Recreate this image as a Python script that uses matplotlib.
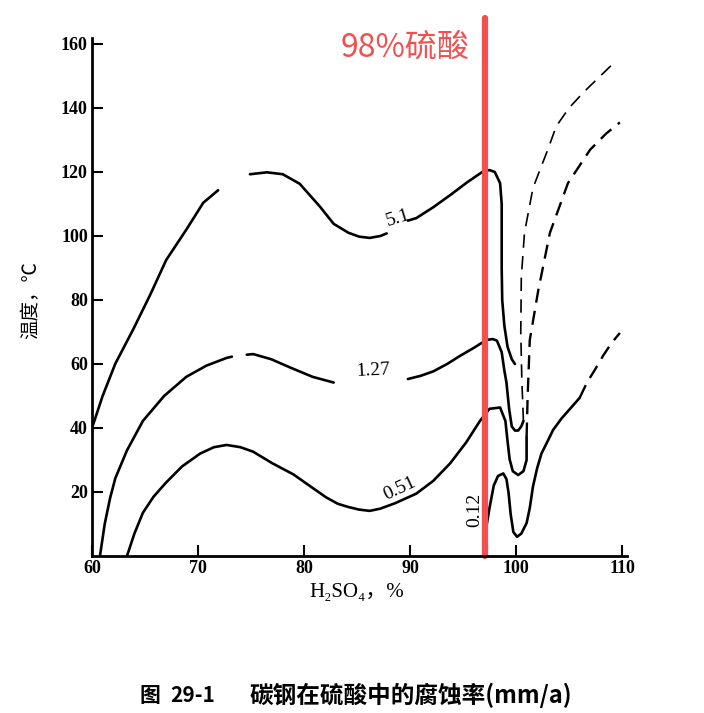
import numpy as np
import matplotlib.pyplot as plt

# curve points (H2SO4 %, temperature C); None = gap in the line
c51_x = [60, 61, 62.2, 63.9, 65.5, 67.0, 68.9, 70.5, 71.9, None,
         74.9, 76.5, 78.0, 79.6, 81.5, 82.8, 84.2, 85.2, 86.2, 87.2, 87.8, None,
         89.8, 90.6, 92.2, 93.8, 95.4, 96.9, 97.5, 98.0, 98.5, 98.65, 98.65, 98.65, 98.7, 98.9, 99.2, 99.6, 99.9]
c51_y = [40, 50, 60.1, 70.9, 81.7, 92.5, 102, 110.4, 114.3, None,
         119.3, 119.9, 119.3, 116.3, 109.2, 103.8, 101, 99.8, 99.4, 100, 100.8, None,
         104.8, 105.6, 109, 112.8, 116.8, 120.2, 120.6, 120, 116.5, 110, 100, 90, 80, 72, 65.4, 61.5, 60]

c127_x = [60.75, 61.2, 61.7, 62.2, 63.3, 64.8, 66.8, 68.9, 70.8, 72.7, 73.2, None,
          74.6, 75.2, 76.9, 78.7, 80.8, 82.8, None,
          89.8, 91, 92.2, 93.5, 94.7, 96, 97.2, 97.8, 98.2, 98.65, 98.9, 99.1, 99.35, 99.6, 99.9, 100.2, 100.5, 100.7]
c127_y = [0, 10, 18, 24.3, 33, 42.2, 50, 56, 59.5, 61.9, 62.3, None,
          62.9, 63.1, 61.5, 58.9, 56, 54.2, None,
          55.3, 56.3, 57.7, 60, 62.5, 65, 67.5, 67.8, 67.3, 63.7, 58, 54.2, 46, 40.5, 39.2, 39.2, 40.5, 42.2]
c127d_x = [100.7, 100.55, 100.45, 100.5, 100.8, 101.6, 103, 103.8, 105, 106.4, 107.8, 109.2]
c127d_y = [42.2, 55, 70, 87, 101, 115, 127, 134.3, 140, 145, 149.5, 154]

c051_x = [63.3, 64, 64.8, 65.8, 67, 68.5, 70.2, 71.5, 72.7, 74, 75.2, 77, 79, 80.5, 82.1, 83.2, 84.2,
          85.2, 86.2, 87.2, 88.6, 90.6, 92.2, 93.8, 95.3, 96.6, 97.5, 98.5, 99.0, 99.2, 99.4, 99.7,
          100.2, 100.7, 101, 101]
c051_y = [0, 7, 13.5, 18.5, 23, 28, 32, 34, 34.7, 34, 32.6, 29, 25.5, 22, 18.3, 16.3, 15.3,
          14.5, 14.1, 14.8, 16.5, 19.5, 23.5, 29, 35.5, 42.2, 46, 46.4, 42.2, 36, 30.2, 26.5,
          25.3, 26.5, 30, 37.3]
c051d_x = [101, 101.1, 101.3, 102.1, 103.2, 104.9, 107, 108.5, 109.8]
c051d_y = [37.3, 50, 67.5, 83, 101, 116.5, 127, 132, 135.5]

c012_x = [97.2, 97.5, 97.9, 98.3, 98.8, 99.1, 99.3, 99.5, 99.75, 100.1, 100.5, 101, 101.3, 101.6,
          102, 102.4, 103, 103.5, 104.3, 105.1, 106]
c012_y = [9, 15, 22, 25, 25.8, 24, 19.7, 13, 7.5, 6, 7, 10.3, 15, 21.7,
          27.5, 32, 36, 39.4, 43, 46, 49.4]
c012d_x = [106, 106.7, 107.5, 108.2, 109, 109.8]
c012d_y = [49.4, 54.2, 58.5, 62.5, 66.5, 69.7]

curve_labels = ["5.1", "1.27", "0.51", "0.12"]
label_x = [88.9, 86.5, 89.0, 96.1]
label_y = [105.6, 57.8, 21.0, 14.5]
label_rot = [17, 3, 25, 90]

xticks = [60, 70, 80, 90, 100, 110]
yticks = [20, 40, 60, 80, 100, 120, 140, 160]
mark_x = 97.1   # where the red marker line sits


def arr(v):
    return np.array([np.nan if a is None else a for a in v], dtype=float)


serif = ['Liberation Serif', 'DejaVu Serif', 'Noto Sans CJK SC']
cjk = ['Noto Sans CJK SC', 'DejaVu Sans']

fig = plt.figure(figsize=(7.04, 7.13), dpi=100)
ax = fig.add_axes([92 / 704, 1 - 556 / 713, 530 / 704, 512 / 713])

solid = dict(color='black', lw=1.9, solid_capstyle='round', solid_joinstyle='round')
ax.plot(arr(c51_x), arr(c51_y), **solid)
ax.plot(arr(c127_x), arr(c127_y), **solid)
ax.plot(arr(c051_x), arr(c051_y), **solid)
ax.plot(arr(c012_x), arr(c012_y), **solid)

ax.plot(c127d_x, c127d_y, color='black', lw=1.2, dashes=(8, 5))
ax.plot(c051d_x, c051d_y, color='black', lw=1.7, dashes=(6, 3.5))
ax.plot(c012d_x, c012d_y, color='black', lw=1.7, dashes=(6, 3.5))

for t, lx, ly, r in zip(curve_labels, label_x, label_y, label_rot):
    ax.text(lx, ly, t, rotation=r, ha='center', va='center', fontsize=14,
            family=serif, rotation_mode='anchor')

ax.set_xlim(60, 110)
ax.set_ylim(0, 160)
ax.set_xticks(xticks)
ax.set_yticks(yticks)
ax.tick_params(direction='in', length=8, width=1.5, pad=3)
for lab in ax.get_xticklabels() + ax.get_yticklabels():
    lab.set_family(serif)
    lab.set_fontsize(13)
    lab.set_fontweight('bold')
ax.spines['top'].set_visible(False)
ax.spines['right'].set_visible(False)
ax.spines['left'].set_linewidth(2)
ax.spines['bottom'].set_linewidth(2)
ax.spines['left'].set_bounds(0, 162)
ax.spines['bottom'].set_bounds(60, 110.5)

ax.set_xlabel('H₂SO₄，%', family=serif, fontsize=15, labelpad=4)
ax.set_ylabel('温度，℃', family=cjk, fontsize=14, labelpad=14)

# red marker line and its label
ax.axvline(mark_x, ymin=0, ymax=(556 - 18) / 512, color='#f25050', lw=4.5,
           clip_on=False, solid_capstyle='round')
fig.text(470 / 704, 1 - 48 / 713, '98%硫酸', color='#f25050', fontsize=23,
         family=cjk, ha='right', va='center')

# caption, set in three pieces to keep the wide spacing of the print
cap_y = 1 - 695 / 713
fig.text(150 / 704, cap_y, '图', family=cjk, fontsize=15, fontweight='bold',
         ha='center', va='center')
fig.text(170 / 704, cap_y, '29-1', family=cjk, fontsize=15, fontweight='bold',
         ha='left', va='center')
fig.text(250 / 704, cap_y, '碳钢在硫酸中的腐蚀率(mm/a)', family=cjk, fontsize=17,
         fontweight='bold', ha='left', va='center')

fig.savefig('out.png', dpi=100)
